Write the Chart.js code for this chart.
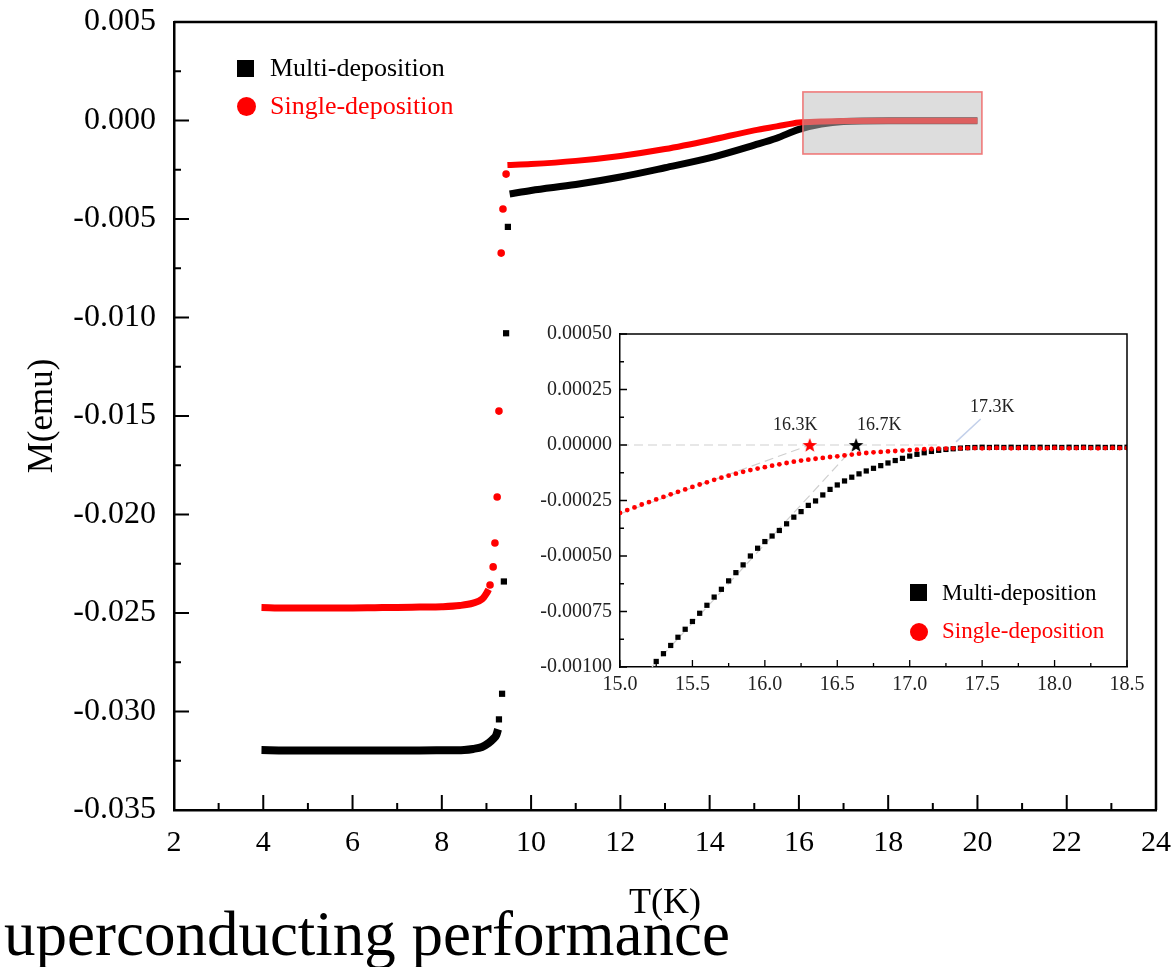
<!DOCTYPE html>
<html>
<head>
<meta charset="utf-8">
<script src="https://cdn.jsdelivr.net/npm/chart.js@4.4.0/dist/chart.umd.min.js"></script>
<style>
  html, body { margin: 0; padding: 0; background: #fff; }
  body { width: 1173px; height: 967px; position: relative; overflow: hidden;
         font-family: "Liberation Serif", "Times New Roman", serif; }
  #main { position: absolute; left: 0; top: 0; }
  #inset { position: absolute; left: 530px; top: 320px; }
  .txt { position: absolute; white-space: nowrap; line-height: 1; }
  .sq { position: absolute; background: #000; }
  .dot { position: absolute; background: #f00; border-radius: 50%; }
</style>
</head>
<body>
<canvas id="main" width="1173" height="967"></canvas>
<canvas id="inset" width="640" height="380"></canvas>

<!-- main legend -->
<div class="sq" style="left:237px;top:60px;width:17px;height:17px"></div>
<div class="txt" style="left:270px;top:55px;font-size:26px;color:#000">Multi-deposition</div>
<div class="dot" style="left:237px;top:97px;width:19px;height:19px"></div>
<div class="txt" style="left:270px;top:93px;font-size:26px;color:#f00">Single-deposition</div>

<!-- inset legend -->
<div class="sq" style="left:910px;top:584px;width:17px;height:17px"></div>
<div class="txt" style="left:942px;top:581px;font-size:23px;color:#000">Multi-deposition</div>
<div class="dot" style="left:910px;top:623px;width:18px;height:18px"></div>
<div class="txt" style="left:942px;top:619px;font-size:23px;color:#f00">Single-deposition</div>

<div class="txt" style="left:4px;top:903px;font-size:63px;color:#000">uperconducting performance</div>

<script>
// ---------- main panel data: T (K) and M (emu) ----------
const multiLowT = [3.96, 4.5, 5.0, 5.5, 6.0, 6.5, 7.0, 7.5, 8.0, 8.5, 8.7, 8.9, 9.05, 9.15, 9.22, 9.26];
const multiLowM = [-0.03196, -0.03198, -0.03198, -0.03198, -0.03198, -0.03198, -0.03198, -0.03198,
                   -0.03197, -0.03195, -0.0319, -0.0318, -0.0316, -0.0314, -0.0312, -0.0309];
const multiDropT = [9.28, 9.35, 9.39, 9.44, 9.48];
const multiDropM = [-0.0304, -0.0291, -0.0234, -0.0108, -0.0054];
const multiUpT = [9.52, 10, 11, 12, 13, 14, 15, 15.5, 16, 16.5, 17, 18, 19, 20];
const multiUpM = [-0.00373, -0.00355, -0.00325, -0.00287, -0.0024, -0.0019, -0.00125, -0.0009,
                  -0.00045, -0.00018, -0.00005, -0.00001, -0.00001, -0.00001];

const singleLowT = [3.96, 4.5, 5.0, 5.5, 6.0, 6.5, 7.0, 7.5, 8.0, 8.4, 8.7, 8.9, 9.0, 9.05];
const singleLowM = [-0.02472, -0.02475, -0.02475, -0.02474, -0.02474, -0.02473, -0.02472, -0.0247,
                    -0.02468, -0.02462, -0.0245, -0.0243, -0.0240, -0.0238];
const singleDropT = [9.08, 9.15, 9.19, 9.24, 9.28, 9.33, 9.37, 9.44];
const singleDropM = [-0.02358, -0.02266, -0.02145, -0.01911, -0.01475, -0.00673, -0.00449, -0.00272];
const singleUpT = [9.47, 10, 11, 12, 13, 14, 15, 15.5, 16, 16.5, 17, 18, 19, 20];
const singleUpM = [-0.00226, -0.00221, -0.00205, -0.0018, -0.00145, -0.001, -0.0005, -0.0003,
                   -0.0001, -0.00005, -0.00002, -0.000015, -0.000015, -0.000015];

// zoomed region marked on the main panel
const zoomBoxT = [16.09, 20.1];
const zoomBoxM = [-0.0017, 0.00145];

// ---------- inset data ----------
const insetSingleT = [15.00, 15.05, 15.10, 15.15, 15.20, 15.25, 15.30, 15.35, 15.40, 15.45,
                      15.50, 15.55, 15.60, 15.65, 15.70, 15.75, 15.80, 15.85, 15.90, 15.95,
                      16.00, 16.05, 16.10, 16.15, 16.20, 16.25, 16.30, 16.35, 16.40, 16.45,
                      16.50, 16.55, 16.60, 16.65, 16.70, 16.75, 16.80, 16.85, 16.90, 16.95,
                      17.00, 17.05, 17.10, 17.15, 17.20, 17.25, 17.30, 17.35, 17.40, 17.45,
                      17.50, 17.55, 17.60, 17.65, 17.70, 17.75, 17.80, 17.85, 17.90, 17.95,
                      18.00, 18.05, 18.10, 18.15, 18.20, 18.25, 18.30, 18.35, 18.40, 18.45, 18.50];
const insetSingleM = [-0.000306, -0.000293, -0.000281, -0.000268, -0.000257, -0.000245, -0.000234, -0.000222, -0.000211, -0.000200,
                      -0.000189, -0.000178, -0.000168, -0.000157, -0.000147, -0.000138, -0.000129, -0.000121, -0.000113, -0.000106,
                      -0.000100, -0.000093, -0.000087, -0.000081, -0.000075, -0.000070, -0.000066, -0.000062, -0.000058, -0.000054,
                      -0.000051, -0.000047, -0.000043, -0.000039, -0.000036, -0.000033, -0.000031, -0.000029, -0.000027, -0.000025,
                      -0.000023, -0.000021, -0.000019, -0.000018, -0.000017, -0.000016, -0.000015, -0.000015, -0.000014, -0.000014,
                      -0.000015, -0.000014, -0.000013, -0.000014, -0.000015, -0.000014, -0.000013, -0.000014, -0.000015, -0.000014,
                      -0.000013, -0.000014, -0.000015, -0.000014, -0.000013, -0.000014, -0.000015, -0.000014, -0.000013, -0.000014, -0.000014];

const insetMultiT = [15.20, 15.25, 15.30, 15.35, 15.40, 15.45, 15.50, 15.55, 15.60, 15.65,
                     15.70, 15.75, 15.80, 15.85, 15.90, 15.95, 16.00, 16.05, 16.10, 16.15,
                     16.20, 16.25, 16.30, 16.35, 16.40, 16.45, 16.50, 16.55, 16.60, 16.65,
                     16.70, 16.75, 16.80, 16.85, 16.90, 16.95, 17.00, 17.05, 17.10, 17.15,
                     17.20, 17.25, 17.30, 17.35, 17.40, 17.45, 17.50, 17.55, 17.60, 17.65,
                     17.70, 17.75, 17.80, 17.85, 17.90, 17.95, 18.00, 18.05, 18.10, 18.15,
                     18.20, 18.25, 18.30, 18.35, 18.40, 18.45, 18.50];
const insetMultiM = [-0.001010, -0.000975, -0.000940, -0.000903, -0.000866, -0.000830, -0.000795, -0.000758, -0.000722, -0.000685,
                     -0.000650, -0.000612, -0.000575, -0.000540, -0.000500, -0.000465, -0.000435, -0.000410, -0.000385, -0.000355,
                     -0.000325, -0.000300, -0.000272, -0.000252, -0.000225, -0.000200, -0.000180, -0.000162, -0.000145, -0.000130,
                     -0.000117, -0.000105, -0.000093, -0.000081, -0.000070, -0.000060, -0.000050, -0.000042, -0.000035, -0.000029,
                     -0.000024, -0.000020, -0.000017, -0.000014, -0.000012, -0.000011, -0.000010, -0.000011, -0.000010, -0.000011,
                     -0.000010, -0.000011, -0.000010, -0.000011, -0.000010, -0.000011, -0.000010, -0.000011, -0.000010, -0.000011,
                     -0.000010, -0.000011, -0.000010, -0.000011, -0.000010, -0.000011, -0.000010];

// onset markers (stars) and guide lines in the inset
const onsetT = [16.31, 16.63];
const onsetM = [0, 0];
const zeroGuideT = [15.0, 17.2];
const singleTangentT = [15.0, 16.31];
const singleTangentM = [-0.00031, 0];
const multiTangentT = [15.22, 16.63];
const multiTangentM = [-0.001, 0];
const pointerT = [17.32, 17.49];
const pointerM = [0.000014, 0.000117];
const tcLabels = ['16.3K', '16.7K', '17.3K'];
const tcLabelT = [16.21, 16.79, 17.57];
const tcLabelM = [0.00009, 0.00009, 0.00017];

const SERIF = '"Liberation Serif", "Times New Roman", serif';
const pts = (xs, ys) => xs.map((x, i) => ({ x: x, y: ys[i] }));

// keep the plot box exactly where the axis sizes say (no extra label padding)
const fitX = h => s => { s.height = h; s.paddingLeft = 0; s.paddingRight = 0; };
const fitY = w => s => { s.width = w; s.paddingTop = 0; s.paddingBottom = 0; };

// ---------- frame + inward tick marks ----------
const axisFrame = {
  id: 'axisFrame',
  afterDraw(chart, args, o) {
    const { ctx, chartArea: a } = chart;
    const xs = chart.scales.x, ys = chart.scales.y;
    ctx.save();
    ctx.strokeStyle = '#000';
    ctx.lineWidth = o.lineWidth;
    ctx.beginPath();
    ctx.moveTo(a.left, a.top);
    ctx.lineTo(a.right, a.top);
    ctx.lineTo(a.right, a.bottom);
    ctx.stroke();

    ctx.lineWidth = o.tickWidth;
    ctx.beginPath();
    const xv = xs.ticks.map(t => t.value), yv = ys.ticks.map(t => t.value);
    const xMark = (v, len) => { const p = xs.getPixelForValue(v); ctx.moveTo(p, a.bottom); ctx.lineTo(p, a.bottom - len); };
    const yMark = (v, len) => { const p = ys.getPixelForValue(v); ctx.moveTo(a.left, p); ctx.lineTo(a.left + len, p); };
    xv.forEach((v, i) => {
      xMark(v, o.major);
      if (i < xv.length - 1) xMark((v + xv[i + 1]) / 2, o.minor);
    });
    yv.forEach((v, i) => {
      yMark(v, o.major);
      if (i < yv.length - 1) yMark((v + yv[i + 1]) / 2, o.minor);
    });
    ctx.stroke();
    ctx.restore();
  }
};

// shaded box on the main panel marking the inset range
const zoomBox = {
  id: 'zoomBox',
  afterDatasetsDraw(chart) {
    const { ctx, scales: { x, y } } = chart;
    const x0 = x.getPixelForValue(zoomBoxT[0]), x1 = x.getPixelForValue(zoomBoxT[1]);
    const y0 = y.getPixelForValue(zoomBoxM[1]), y1 = y.getPixelForValue(zoomBoxM[0]);
    ctx.save();
    ctx.fillStyle = 'rgba(188,188,188,0.51)';
    ctx.fillRect(x0, y0, x1 - x0, y1 - y0);
    ctx.strokeStyle = 'rgba(240,110,110,0.9)';
    ctx.lineWidth = 1.6;
    ctx.strokeRect(x0, y0, x1 - x0, y1 - y0);
    ctx.restore();
  }
};

// dashed guides + Tc labels in the inset
const insetNotes = {
  id: 'insetNotes',
  beforeDatasetsDraw(chart) {
    const { ctx, scales: { x, y } } = chart;
    const seg = (ts, ms) => {
      ctx.moveTo(x.getPixelForValue(ts[0]), y.getPixelForValue(ms[0]));
      ctx.lineTo(x.getPixelForValue(ts[1]), y.getPixelForValue(ms[1]));
    };
    ctx.save();
    ctx.strokeStyle = '#cfcfcf';
    ctx.lineWidth = 1.2;
    ctx.setLineDash([9, 5]);
    ctx.beginPath();
    seg(zeroGuideT, [0, 0]);
    seg(singleTangentT, singleTangentM);
    seg(multiTangentT, multiTangentM);
    ctx.stroke();
    ctx.setLineDash([]);
    ctx.strokeStyle = '#c3d0ea';
    ctx.lineWidth = 1.5;
    ctx.beginPath();
    seg(pointerT, pointerM);
    ctx.stroke();
    ctx.restore();
  },
  afterDatasetsDraw(chart) {
    const { ctx, scales: { x, y } } = chart;
    ctx.save();
    ctx.font = '18px ' + SERIF;
    ctx.fillStyle = '#222';
    ctx.textAlign = 'center';
    ctx.textBaseline = 'middle';
    tcLabels.forEach((s, i) => ctx.fillText(s, x.getPixelForValue(tcLabelT[i]), y.getPixelForValue(tcLabelM[i])));
    ctx.restore();
  }
};

// filled five-point star used as point style
function starImage(color) {
  const c = document.createElement('canvas');
  c.width = 16; c.height = 16;
  const g = c.getContext('2d');
  g.fillStyle = color;
  g.beginPath();
  for (let i = 0; i < 10; i++) {
    const r = i % 2 ? 3.2 : 7.6;
    const ang = -Math.PI / 2 + i * Math.PI / 5;
    g.lineTo(8 + r * Math.cos(ang), 8.6 + r * Math.sin(ang));
  }
  g.closePath();
  g.fill();
  return c;
}

const lineSet = (data, color, width) => ({
  data: data, showLine: true, borderColor: color, borderWidth: width,
  pointRadius: 0, cubicInterpolationMode: 'monotone'
});
const dotSet = (data, color, style, r) => ({
  data: data, showLine: false, pointStyle: style, pointRadius: r,
  backgroundColor: color, borderColor: color, borderWidth: 0
});

// ---------- main chart ----------
new Chart(document.getElementById('main'), {
  type: 'scatter',
  data: {
    datasets: [
      lineSet(pts(singleUpT, singleUpM), '#ff0000', 6),
      dotSet(pts(singleDropT, singleDropM), '#ff0000', 'circle', 3.8),
      lineSet(pts(singleLowT, singleLowM), '#ff0000', 7),
      lineSet(pts(multiUpT, multiUpM), '#000000', 7),
      dotSet(pts(multiDropT, multiDropM), '#000000', 'rect', 4.4),
      lineSet(pts(multiLowT, multiLowM), '#000000', 8)
    ]
  },
  options: {
    responsive: false,
    animation: false,
    events: [],
    layout: { padding: { top: 22, right: 17, left: 0, bottom: 0 } },
    plugins: { legend: { display: false }, tooltip: { enabled: false }, axisFrame: { lineWidth: 2.5, tickWidth: 2, major: 15, minor: 7 } },
    scales: {
      x: {
        type: 'linear', min: 2, max: 24,
        grid: { display: false, drawTicks: false },
        border: { display: true, color: '#000', width: 2.5 },
        ticks: { stepSize: 2, autoSkip: false, maxRotation: 0, padding: 15, color: '#000', font: { family: SERIF, size: 30 } },
        title: { display: true, text: 'T(K)', color: '#000', font: { family: SERIF, size: 36 }, padding: { top: 0, bottom: 42 } },
        afterFit: fitX(157)
      },
      y: {
        type: 'linear', min: -0.035, max: 0.005,
        grid: { display: false, drawTicks: false },
        border: { display: true, color: '#000', width: 2.5 },
        ticks: { stepSize: 0.005, padding: 18, color: '#000', font: { family: SERIF, size: 32 },
                 callback: v => (Math.abs(v) < 1e-9 ? 0 : v).toFixed(3) },
        title: { display: true, text: 'M(emu)', color: '#000', font: { family: SERIF, size: 35 }, padding: { top: 22, bottom: 0 } },
        afterFit: fitY(174)
      }
    }
  },
  plugins: [axisFrame, zoomBox]
});

// ---------- inset chart ----------
new Chart(document.getElementById('inset'), {
  type: 'scatter',
  data: {
    datasets: [
      { data: pts(onsetT, onsetM), pointStyle: [starImage('#ff0000'), starImage('#000000')], pointRadius: 8, clip: 0 },
      Object.assign(dotSet(pts(insetSingleT, insetSingleM), '#ff0000', 'circle', 2.4), { clip: 0 }),
      Object.assign(dotSet(pts(insetMultiT, insetMultiM), '#000000', 'rect', 3.7), { clip: 0 })
    ]
  },
  options: {
    responsive: false,
    animation: false,
    events: [],
    layout: { padding: { top: 14, right: 43, left: 0, bottom: 0 } },
    plugins: { legend: { display: false }, tooltip: { enabled: false }, axisFrame: { lineWidth: 1.5, tickWidth: 1.3, major: 7, minor: 4 } },
    scales: {
      x: {
        type: 'linear', min: 15, max: 18.5,
        grid: { display: false, drawTicks: false },
        border: { display: true, color: '#000', width: 1.5 },
        ticks: { stepSize: 0.5, autoSkip: false, maxRotation: 0, padding: 6, color: '#222', font: { family: SERIF, size: 20 },
                 callback: v => v.toFixed(1) },
        afterFit: fitX(33)
      },
      y: {
        type: 'linear', min: -0.001, max: 0.0005,
        grid: { display: false, drawTicks: false },
        border: { display: true, color: '#000', width: 1.5 },
        ticks: { stepSize: 0.00025, padding: 8, color: '#222', font: { family: SERIF, size: 20 },
                 callback: v => (Math.abs(v) < 1e-12 ? 0 : v).toFixed(5) },
        afterFit: fitY(90)
      }
    }
  },
  plugins: [axisFrame, insetNotes]
});
</script>
</body>
</html>
